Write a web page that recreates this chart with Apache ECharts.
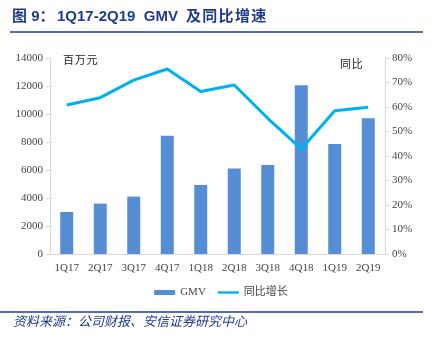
<!DOCTYPE html>
<html><head><meta charset="utf-8">
<script src="https://cdn.jsdelivr.net/npm/echarts@6/dist/echarts.min.js"></script>
<style>html,body{margin:0;padding:0;background:#fff}#c{width:442px;height:340px}</style>
</head><body><div id="c"></div>
<script>
const categories = ['1Q17','2Q17','3Q17','4Q17','1Q18','2Q18','3Q18','4Q18','1Q19','2Q19'];
const gmv = [3000, 3600, 4100, 8450, 4930, 6100, 6350, 12050, 7850, 9700];
const yoy = [60.8, 63.8, 71.0, 75.5, 66.3, 69.0, 55.4, 42.9, 58.5, 59.9];

const serif = '"Liberation Serif", "Times New Roman", serif';
const cjk = '"Noto Sans CJK SC", sans-serif';
const navy = '#1F3C8C';
const titleFont = 'bold 15px "Liberation Sans", "Noto Sans CJK SC", sans-serif';

function chars(str, x, y, step, font, fill) {
  return str.split('').map((ch, i) => ({type: 'text', left: x + i * step, top: y, style: {text: ch, font: font, fill: fill}}));
}

const chart = echarts.init(document.getElementById('c'));
chart.setOption({
  animation: false,
  grid: {left: 50, right: 57, top: 58, bottom: 86},
  graphic: [
    {type: 'text', left: 12, top: 9, style: {text: '图 9：', font: titleFont, fill: navy}},
    {type: 'text', left: 57, top: 9, style: {text: '1Q17-2Q19  GMV', font: titleFont, fill: navy}}
  ].concat(chars('及同比增速', 186, 9, 16.3, titleFont, navy)).concat([
    {type: 'line', shape: {x1: 10, y1: 32, x2: 423, y2: 32}, style: {stroke: navy, lineWidth: 1.5}},
    {type: 'line', shape: {x1: 0, y1: 312, x2: 423, y2: 312}, style: {stroke: navy, lineWidth: 1.5}},
    {type: 'text', left: 13, top: 315, style: {text: '资料来源：公司财报、安信证券研究中心', font: 'italic 13px ' + cjk, fill: navy}}
  ]).concat(chars('百万元', 63, 54, 11.8, '11px ' + cjk, '#222'))
    .concat(chars('同比', 340, 58, 11.8, '11px ' + cjk, '#222')),
  legend: {
    bottom: 37, left: 'center', itemGap: 12, itemWidth: 21, itemHeight: 5,
    textStyle: {fontFamily: serif + ',' + cjk, fontSize: 11, color: '#444'},
    data: [{name: 'GMV', icon: 'rect'}, {name: '同比增长', icon: 'path://M0,0H22V2.5H0Z'}]
  },
  xAxis: {
    type: 'category', data: categories,
    axisLine: {lineStyle: {color: '#D9D9D9'}},
    axisTick: {show: false},
    axisLabel: {fontFamily: serif, fontSize: 11, color: '#444', margin: 9}
  },
  yAxis: [
    {type: 'value', min: 0, max: 14000, interval: 2000,
     axisLine: {show: true, lineStyle: {color: '#D9D9D9'}},
     axisTick: {show: true, length: 4, lineStyle: {color: '#D9D9D9'}},
     splitLine: {show: false},
     axisLabel: {fontFamily: serif, fontSize: 11, color: '#444', margin: 7, formatter: v => String(v)}},
    {type: 'value', min: 0, max: 80, interval: 10,
     axisLine: {show: true, lineStyle: {color: '#D9D9D9'}},
     axisTick: {show: true, length: 4, lineStyle: {color: '#D9D9D9'}},
     splitLine: {show: false},
     axisLabel: {fontFamily: serif, fontSize: 11, color: '#444', margin: 7, formatter: '{value}%'}}
  ],
  series: [
    {name: 'GMV', type: 'bar', data: gmv, barWidth: 13, itemStyle: {color: '#558ED5'}},
    {name: '同比增长', type: 'line', yAxisIndex: 1, data: yoy, symbol: 'none',
     lineStyle: {color: '#00B0F0', width: 3}, itemStyle: {color: '#00B0F0'}}
  ]
});
</script></body></html>
